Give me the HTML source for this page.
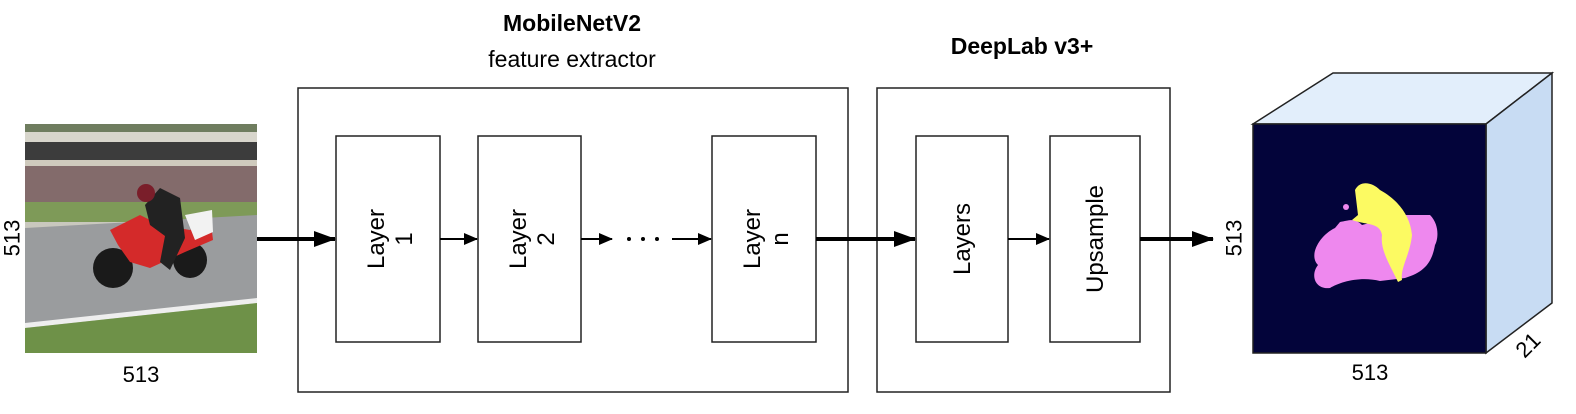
<!DOCTYPE html>
<html><head><meta charset="utf-8"><style>
html,body{margin:0;padding:0;background:#fff;}
svg{display:block;font-family:"Liberation Sans",Arial,sans-serif;}
</style></head><body>
<svg width="1576" height="414" viewBox="0 0 1576 414" xmlns="http://www.w3.org/2000/svg">
<defs>
<marker id="a" markerWidth="10" markerHeight="10" refX="9" refY="5" orient="auto" markerUnits="userSpaceOnUse"><path d="M0,0 L10,5 L0,10 Z" fill="#000"/></marker>
<marker id="b" markerWidth="22" markerHeight="16" refX="21" refY="8" orient="auto" markerUnits="userSpaceOnUse"><path d="M0,0 L22,8 L0,16 Z" fill="#000"/></marker>
<marker id="c" markerWidth="14" markerHeight="12" refX="13" refY="6" orient="auto" markerUnits="userSpaceOnUse"><path d="M0,0 L14,6 L0,12 Z" fill="#000"/></marker>
<clipPath id="ph"><rect x="25" y="124" width="232" height="229"/></clipPath>
</defs>
<!-- photo -->
<g clip-path="url(#ph)">
<rect x="25" y="124" width="232" height="229" fill="#c9c8be"/>
<rect x="25" y="124" width="232" height="8" fill="#6f7d5f"/>
<rect x="25" y="132" width="232" height="10" fill="#d8d6cc"/>
<rect x="25" y="142" width="232" height="18" fill="#3c3c3c"/>
<rect x="25" y="160" width="232" height="6" fill="#cfcabd"/>
<rect x="25" y="166" width="232" height="36" fill="#836b6b"/>
<rect x="25" y="202" width="232" height="20" fill="#7e9a58"/>
<polygon points="25,228 257,215 257,300 25,325" fill="#9a9c9e"/>
<polygon points="25,323 257,298 257,303 25,328" fill="#eeeeee"/>
<polygon points="25,328 257,303 257,353 25,353" fill="#6e9148"/>
<ellipse cx="113" cy="268" rx="20" ry="20" fill="#1a1a1a"/>
<ellipse cx="190" cy="260" rx="17" ry="18" fill="#1a1a1a"/>
<path d="M110,230 L140,215 L160,225 L190,230 L210,215 L213,240 L185,252 L150,268 L130,262 L118,245 Z" fill="#d42a2a"/>
<path d="M145,205 L160,188 L180,198 L185,238 L170,270 L160,262 L165,236 L150,225 Z" fill="#222"/>
<circle cx="146" cy="193" r="9" fill="#7a1e2a"/>
<path d="M185,215 L212,210 L213,232 L195,240 Z" fill="#f2f2f2"/>
</g>
<text x="12" y="238" font-size="22" text-anchor="middle" transform="rotate(-90 12 238)" dominant-baseline="central">513</text>
<text x="141" y="382" font-size="22" text-anchor="middle">513</text>
<!-- titles -->
<text x="572" y="31" font-size="23" font-weight="bold" text-anchor="middle">MobileNetV2</text>
<text x="572" y="67" font-size="23" text-anchor="middle">feature extractor</text>
<text x="1022" y="54" font-size="23" font-weight="bold" text-anchor="middle">DeepLab v3+</text>
<!-- outer boxes -->
<rect x="298" y="88" width="550" height="304" fill="none" stroke="#222" stroke-width="1.5"/>
<rect x="877" y="88" width="293" height="304" fill="none" stroke="#222" stroke-width="1.5"/>
<!-- inner boxes -->
<g fill="none" stroke="#222" stroke-width="1.5">
<rect x="336" y="136" width="104" height="206"/>
<rect x="478" y="136" width="103" height="206"/>
<rect x="712" y="136" width="104" height="206"/>
<rect x="916" y="136" width="92" height="206"/>
<rect x="1050" y="136" width="90" height="206"/>
</g>
<g font-size="24" text-anchor="middle">
<text transform="translate(388 239) rotate(-90)"><tspan x="0" y="-4">Layer</tspan><tspan x="0" y="24">1</tspan></text>
<text transform="translate(530 239) rotate(-90)"><tspan x="0" y="-4">Layer</tspan><tspan x="0" y="24">2</tspan></text>
<text transform="translate(764 239) rotate(-90)"><tspan x="0" y="-4">Layer</tspan><tspan x="0" y="24">n</tspan></text>
<text transform="translate(962 239) rotate(-90)" y="8">Layers</text>
<text transform="translate(1095 239) rotate(-90)" y="8">Upsample</text>
</g>
<!-- arrows -->
<g stroke="#000" fill="none">
<line x1="257" y1="239" x2="335" y2="239" stroke-width="4" marker-end="url(#b)"/>
<line x1="440" y1="239" x2="477" y2="239" stroke-width="2" marker-end="url(#c)"/>
<line x1="581" y1="239" x2="612" y2="239" stroke-width="2" marker-end="url(#c)"/>
<line x1="672" y1="239" x2="711" y2="239" stroke-width="2" marker-end="url(#c)"/>
<line x1="816" y1="239" x2="915" y2="239" stroke-width="4" marker-end="url(#b)"/>
<line x1="1008" y1="239" x2="1049" y2="239" stroke-width="2" marker-end="url(#c)"/>
<line x1="1140" y1="239" x2="1213" y2="239" stroke-width="4" marker-end="url(#b)"/>
</g>
<g fill="#000"><circle cx="629" cy="239" r="2"/><circle cx="643" cy="239" r="2"/><circle cx="657" cy="239" r="2"/></g>
<!-- cube -->
<polygon points="1253,124 1333,73 1552,73 1486,124" fill="#e2eefb" stroke="#222" stroke-width="1.5"/>
<polygon points="1486,124 1552,73 1552,303 1486,353" fill="#c8dcf3" stroke="#222" stroke-width="1.5"/>
<rect x="1253" y="124" width="233" height="229" fill="#03043a" stroke="#222" stroke-width="1.5"/>
<path d="M1318,265 C1308,255 1320,235 1335,228 L1340,222 C1350,220 1355,218 1362,225 L1400,215 L1430,215 C1440,225 1438,240 1435,245 C1432,262 1425,272 1405,278 L1380,281 C1360,276 1340,282 1330,288 C1315,290 1310,275 1318,265 Z" fill="#ee88ee"/>
<path d="M1355,190 C1360,180 1372,182 1380,190 C1398,200 1410,215 1412,235 C1410,255 1400,268 1402,280 L1398,282 C1390,265 1380,250 1382,235 C1380,222 1365,225 1352,220 L1358,215 Z" fill="#fcfa62"/>
<circle cx="1346" cy="207" r="3" fill="#ee88ee"/>
<text transform="translate(1234 238) rotate(-90)" font-size="22" text-anchor="middle" dominant-baseline="central">513</text>
<text x="1370" y="380" font-size="22" text-anchor="middle">513</text>
<text transform="translate(1528 345) rotate(-45)" font-size="22" text-anchor="middle" dominant-baseline="central">21</text>
</svg>
</body></html>
